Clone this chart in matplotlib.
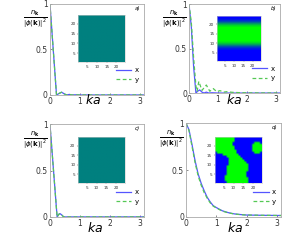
import numpy as np
import matplotlib
matplotlib.use("Agg")
import matplotlib.pyplot as plt
from matplotlib.colors import LinearSegmentedColormap

# ---- curve data (k a, n_k/|phi(k)|^2) ----
k_a_x = [0, 0.22, 0.30, 0.39, 0.48, 0.56, 0.65, 0.74, 0.85, 1.0, 3.1416]
v_a_x = [1.0, 0.0, 0.015, 0.03, 0.012, 0.0, 0.006, 0.0, 0.002, 0.0, 0.0]
k_a_y = [0, 0.22, 0.30, 0.39, 0.48, 0.56, 0.65, 0.74, 0.85, 1.0, 3.1416]
v_a_y = [1.0, 0.0, 0.016, 0.03, 0.011, 0.0, 0.005, 0.0, 0.002, 0.0, 0.0]

k_b_x = [0, 0.08, 0.16, 0.24, 0.30, 0.37, 0.45, 0.52, 0.60, 0.68, 0.80, 1.0, 3.1416]
v_b_x = [1.0, 0.75, 0.30, 0.0, 0.02, 0.035, 0.01, 0.0, 0.01, 0.0, 0.003, 0.0, 0.0]
k_b_y = [0, 0.08, 0.16, 0.24, 0.28, 0.34, 0.45, 0.60, 0.72, 0.84, 0.96, 1.07,
         1.20, 1.30, 1.50, 1.70, 2.0, 3.1416]
v_b_y = [1.0, 0.80, 0.40, 0.08, 0.02, 0.13, 0.03, 0.09, 0.02, 0.05, 0.015, 0.027,
         0.01, 0.015, 0.008, 0.005, 0.002, 0.0]

k_c_x = [0, 0.24, 0.30, 0.34, 0.40, 0.46, 0.60, 3.1416]
v_c_x = [1.0, 0.0, 0.03, 0.035, 0.02, 0.0, 0.0, 0.0]
k_c_y = [0, 0.24, 0.30, 0.34, 0.40, 0.46, 0.60, 3.1416]
v_c_y = [1.0, 0.0, 0.028, 0.036, 0.018, 0.0, 0.0, 0.0]

k_d = [0, 0.1, 0.2, 0.3, 0.4, 0.5, 0.6, 0.7, 0.8, 0.9, 1.0, 1.2, 1.4, 1.6,
       1.8, 2.0, 2.5, 3.1416]
v_d_x = [1.0, 0.93, 0.77, 0.60, 0.46, 0.36, 0.28, 0.21, 0.16, 0.12, 0.10,
         0.065, 0.045, 0.032, 0.025, 0.02, 0.017, 0.015]
v_d_y = [1.0, 0.92, 0.75, 0.58, 0.44, 0.34, 0.26, 0.20, 0.15, 0.115, 0.095,
         0.062, 0.043, 0.031, 0.024, 0.02, 0.017, 0.015]

# ---- inset images (0 = blue, 1 = green), 24x24 ----
N = 24
img_a_level = 0.5
img_c_level = 0.5
# panel b: one value per row, from y=1 (bottom) to y=24 (top)
img_b_rows = [0, 0, 0, 0, 0, 0, 0.1, 0.3, 0.6, 0.85, 1, 1, 1, 1, 1, 1, 1, 1,
              0.85, 0.6, 0.3, 0.1, 0, 0]
# panel d: rows from top (y=24) to bottom (y=1), G = green, B = blue
img_d_rows = [
    "GGGGGGGGGGBBBBBBBBBBBBBB",
    "GGGGGGGGGGBBBBBBBBBBBBBB",
    "GGGGGGGGGGBBBBBBBBBBBBBB",
    "GGGGGGGGGBBBBBBBBBBBGGGB",
    "GGGGGGGGGBBBBBBBBBBGGGGG",
    "GGGGGGGGGGBBBBBBBBBGGGGG",
    "GGGGGGGGGGBBBBBBBBBGGGGG",
    "GGGGGGGGGGGBBBBBBBBGGGGG",
    "BGGGGGGGGGGBBBBBBBBBGGGB",
    "BBBBGGGGGGGGBBBBBBBBBBBB",
    "BBBBBBGGGGGGGBBBBBBBBBBB",
    "BBBBBBBGGGGGGGBBBBBBBBBB",
    "BBBBBBBGGGGGGGGBBBBBBBBB",
    "BBBBBBBGGGGGGGGGBBBBBBBB",
    "BBBBBBBGGGGGGGGGGBBBBBBB",
    "BBBBBBGGGGGGGGGGGBBBBBBB",
    "BBBBBBGGGGGGGGGGGBBBBBBB",
    "BBBBBBGGGGGGGGGGGBBBBBBB",
    "BBBBBBGGGGGGGGGGBBBBBBBB",
    "BBBBBBGGGGGGGGGGBBBBBBBB",
    "BBBBBGGGGGGGGGGGBBBBBBBB",
    "BBBBBGGGGGGGGGGGGBBBBBBB",
    "BBBBBGGGGGGGGGGGGBBBBBBB",
    "BBBBBBGGGGGGGGGGGBBBBBBB",
]

blue = '#5555ff'
green = '#55c855'
cmap = LinearSegmentedColormap.from_list('bg', [(0, 0, 1), (0, 1, 0)])

fig = plt.figure(figsize=(2.99, 2.41), dpi=100)

panels = [
    # axes rect, inset rect, curves, label, xlabel pos
    ([0.167, 0.606, 0.314, 0.378], [0.262, 0.743, 0.157, 0.195],
     (k_a_x, v_a_x, k_a_y, v_a_y), 'a)', (0.46, -0.055)),
    ([0.632, 0.614, 0.304, 0.369], [0.726, 0.747, 0.147, 0.187],
     (k_b_x, v_b_x, k_b_y, v_b_y), 'b)', (0.50, -0.077)),
    ([0.167, 0.100, 0.314, 0.385], [0.261, 0.241, 0.157, 0.191],
     (k_c_x, v_c_x, k_c_y, v_c_y), 'c)', (0.48, -0.12)),
    ([0.622, 0.100, 0.318, 0.389], [0.719, 0.241, 0.157, 0.191],
     (k_d, v_d_x, k_d, v_d_y), 'd)', (0.52, -0.12)),
]

images = [
    np.full((N, N), img_a_level),
    np.tile(np.array(img_b_rows)[:, None], (1, N)),
    np.full((N, N), img_c_level),
    np.array([[1.0 if ch == 'G' else 0.0 for ch in row] for row in img_d_rows[::-1]]),
]

for (rect, irect, (kx, vx, ky, vy), lab, xlpos), img in zip(panels, images):
    ax = fig.add_axes(rect)
    ax.plot(kx, vx, color=blue, lw=0.9, label='x')
    ax.plot(ky, vy, color=green, lw=0.9, ls=(0, (3, 2)), label='y')
    ax.set_xlim(0, np.pi)
    ax.set_ylim(0, 1.0)
    ax.set_xticks([0, 1, 2, 3])
    ax.set_yticks([0, 0.5, 1])
    ax.set_yticklabels(['0', '0.5', '1'])
    ax.tick_params(labelsize=5.5, length=1.5, width=0.4, pad=1.5,
                   colors='#333333', direction='in')
    for s in ax.spines.values():
        s.set_color('#aaaaaa')
        s.set_linewidth(0.6)
    ax.text(xlpos[0], xlpos[1], r'$ka$', transform=ax.transAxes,
            fontsize=9, ha='center', va='center')
    ax.text(-0.16, 0.83, r'$\frac{n_{\mathbf{k}}}{|\phi(\mathbf{k})|^2}$',
            transform=ax.transAxes, fontsize=7, ha='center', va='center')
    ax.text(0.93, 0.95, lab, transform=ax.transAxes, fontsize=4,
            style='italic', ha='center', va='center')
    ax.legend(loc='lower right', bbox_to_anchor=(1.0, 0.08), frameon=False,
              fontsize=5, handlelength=2.2, handletextpad=0.5,
              labelspacing=0.5, borderpad=0.2)

    ins = fig.add_axes(irect)
    ins.imshow(img, cmap=cmap, vmin=0, vmax=1, origin='lower',
               extent=(0.5, N + 0.5, 0.5, N + 0.5), aspect='auto',
               interpolation='bilinear')
    ins.set_xticks([5, 10, 15, 20])
    ins.set_yticks([5, 10, 15, 20])
    ins.tick_params(labelsize=3, length=1, width=0.3, pad=1,
                    colors='#333333')
    for s in ins.spines.values():
        s.set_color('#cccccc')
        s.set_linewidth(0.4)

fig.savefig('out.png', dpi=100)
